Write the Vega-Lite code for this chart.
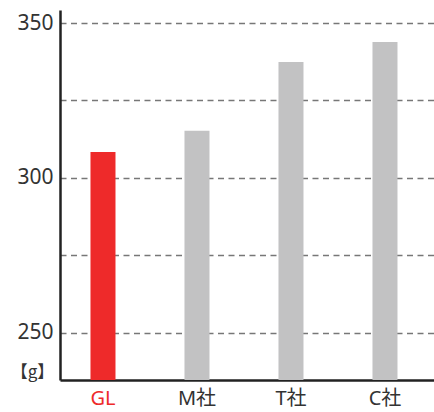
{
  "$schema": "https://vega.github.io/schema/vega-lite/v6.json",
  "width": 374,
  "height": 370,
  "autosize": "none",
  "padding": {"left": 60, "top": 10, "right": 0, "bottom": 32},
  "background": "white",
  "config": {"view": {"stroke": null}, "font": "Noto Sans, Noto Sans CJK JP"},
  "data": {"values": [
    {"maker": "GL", "weight": 308.4, "own": "yes"},
    {"maker": "M社", "weight": 315.2, "own": "no"},
    {"maker": "T社", "weight": 337.4, "own": "no"},
    {"maker": "C社", "weight": 343.9, "own": "no"}
  ]},
  "mark": {"type": "bar", "clip": true},
  "encoding": {
    "x": {
      "field": "maker", "type": "nominal", "sort": null,
      "scale": {"paddingInner": 0.734, "paddingOuter": 0.3564, "align": 0.455},
      "axis": {
        "title": null, "labelAngle": 0, "ticks": false,
        "domainColor": "#222", "domainWidth": 2.5,
        "labelFontSize": 20, "labelPadding": 8, "labelFontWeight": "normal",
        "labelColor": {"condition": {"test": "datum.value == 'GL'", "value": "#ee2a2a"}, "value": "#333"}
      }
    },
    "y": {
      "field": "weight", "type": "quantitative",
      "scale": {"domain": [234.8, 354.2], "nice": false, "zero": false},
      "axis": {
        "values": [250, 275, 300, 325, 350],
        "labelExpr": "datum.value % 50 == 0 ? datum.label : ''",
        "ticks": false, "labelPadding": 7,
        "labelFontSize": 21, "labelColor": "#333", "labelFontWeight": "normal",
        "domainColor": "#222", "domainWidth": 2.5,
        "grid": true, "gridColor": "#777", "gridDash": [6, 4.5], "gridWidth": 1.3,
        "title": "【g】", "titleAngle": 0, "titleX": -28, "titleY": 362,
        "titleAlign": "center", "titleBaseline": "middle", "titleFont": "Noto Sans CJK JP",
        "titleFontSize": 17, "titleFontWeight": "normal", "titleColor": "#333"
      }
    },
    "color": {
      "field": "own", "type": "nominal",
      "scale": {"domain": ["yes", "no"], "range": ["#ee2a2a", "#c2c2c3"]},
      "legend": null
    }
  }
}
